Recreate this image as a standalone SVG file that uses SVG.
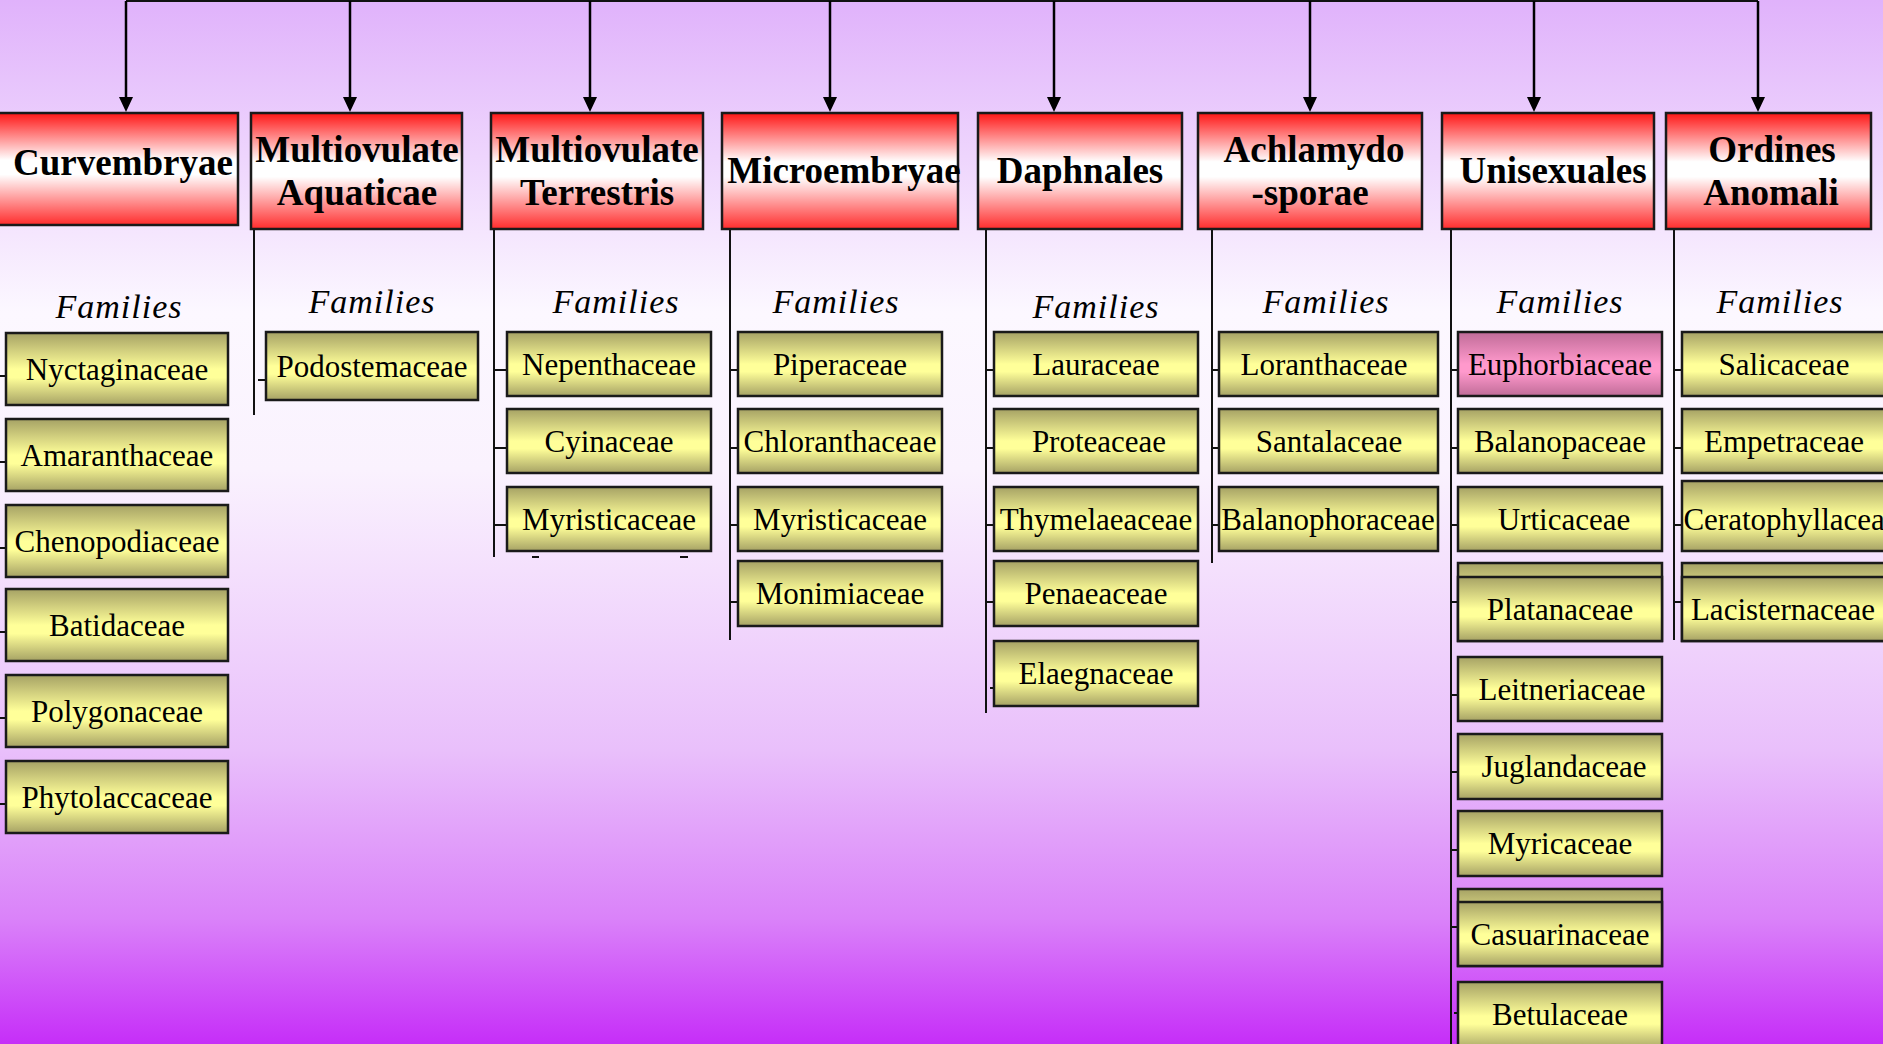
<svg xmlns="http://www.w3.org/2000/svg" width="1883" height="1044" viewBox="0 0 1883 1044">
<defs>
<linearGradient id="bg" x1="0" y1="0" x2="0" y2="1">
<stop offset="0" stop-color="#e0b2fb"/>
<stop offset="0.3" stop-color="#fcf8ff"/>
<stop offset="0.45" stop-color="#faf2fe"/>
<stop offset="0.72" stop-color="#e9bffb"/>
<stop offset="0.88" stop-color="#da82f9"/>
<stop offset="1" stop-color="#c62ef8"/>
</linearGradient>
<linearGradient id="red" x1="0" y1="0" x2="0" y2="1">
<stop offset="0" stop-color="#ff1616"/>
<stop offset="0.42" stop-color="#ffffff"/>
<stop offset="0.55" stop-color="#ffffff"/>
<stop offset="1" stop-color="#ff2c2c"/>
</linearGradient>
<linearGradient id="yel" x1="0" y1="0" x2="0" y2="1">
<stop offset="0" stop-color="#a6a265"/>
<stop offset="0.5" stop-color="#ffff99"/>
<stop offset="0.62" stop-color="#ffff99"/>
<stop offset="1" stop-color="#a6a265"/>
</linearGradient>
<linearGradient id="pink" x1="0" y1="0" x2="0" y2="1">
<stop offset="0" stop-color="#c06c98"/>
<stop offset="0.5" stop-color="#ff99cc"/>
<stop offset="0.62" stop-color="#ff99cc"/>
<stop offset="1" stop-color="#c06c98"/>
</linearGradient>
<marker id="arr" viewBox="0 0 15 14" refX="0" refY="7" markerWidth="15" markerHeight="14" markerUnits="userSpaceOnUse" orient="auto">
<path d="M0,0 L15,7 L0,14 Z" fill="#000"/>
</marker>
<style>
.hdr{fill:url(#red);stroke:#1a1a1a;stroke-width:2.5}
.fam{fill:url(#yel);stroke:#1a1a1a;stroke-width:2.5}
.pk{fill:url(#pink);stroke:#1a1a1a;stroke-width:2.5}
.ht{font-family:"Liberation Serif","Times New Roman",serif;font-weight:bold;font-size:37px;fill:#000;text-anchor:middle}
.ft{font-family:"Liberation Serif","Times New Roman",serif;font-style:italic;font-size:34px;letter-spacing:1px;fill:#000;text-anchor:middle}
.bt{font-family:"Liberation Serif","Times New Roman",serif;font-size:31px;fill:#000;text-anchor:middle}
.ln{stroke:#111;stroke-width:2;fill:none}
.ar{stroke:#000;stroke-width:2.5;fill:none;marker-end:url(#arr)}
</style>
</defs>
<rect x="0" y="0" width="1883" height="1044" fill="url(#bg)"/>

<g id="connectors">
<path class="ln" d="M126,1 H1758" stroke-width="2.5"/>
<path class="ar" d="M126,1 V97"/>
<path class="ar" d="M350,1 V97"/>
<path class="ar" d="M590,1 V97"/>
<path class="ar" d="M830,1 V97"/>
<path class="ar" d="M1054,1 V97"/>
<path class="ar" d="M1310,1 V97"/>
<path class="ar" d="M1534,1 V97"/>
<path class="ar" d="M1758,1 V97"/>
<path class="ln" d="M0,376 H6 M0,462 H6 M0,548 H6 M0,632 H6 M0,718 H6 M0,804 H6"/>
<path class="ln" d="M254,229 V415 M258,380 H266"/>
<path class="ln" d="M494,229 V557 M494,370 H507 M494,448 H507 M494,525 H507"/>
<path class="ln" d="M532,557 H539 M680,557 H688"/>
<path class="ln" d="M730,229 V640 M730,370 H738 M730,448 H738 M730,525 H738 M730,602 H738"/>
<path class="ln" d="M986,229 V713 M986,370 H994 M986,448 H994 M986,525 H994 M986,602 H994 M990,688 H997"/>
<path class="ln" d="M1212,229 V563 M1212,370 H1219 M1212,448 H1219 M1212,525 H1219"/>
<path class="ln" d="M1451,229 V1044 M1451,370 H1458 M1451,448 H1458 M1451,525 H1458 M1451,602 H1458 M1451,695 H1458 M1451,772 H1458 M1451,850 H1458 M1451,927 H1458 M1454,1013 H1461"/>
<path class="ln" d="M1674,229 V640 M1674,370 H1682 M1674,448 H1682 M1674,525 H1682 M1674,602 H1682"/>
</g>

<g id="curvembryae">
<rect class="hdr" x="-6" y="113" width="244" height="112"/>
<text class="ht" x="123" y="175">Curvembryae</text>
<text class="ft" x="119" y="318">Families</text>
<rect class="fam" x="6" y="333" width="222" height="72"/><text class="bt" x="117" y="380">Nyctaginaceae</text>
<rect class="fam" x="6" y="419" width="222" height="72"/><text class="bt" x="117" y="466">Amaranthaceae</text>
<rect class="fam" x="6" y="505" width="222" height="72"/><text class="bt" x="117" y="552">Chenopodiaceae</text>
<rect class="fam" x="6" y="589" width="222" height="72"/><text class="bt" x="117" y="636">Batidaceae</text>
<rect class="fam" x="6" y="675" width="222" height="72"/><text class="bt" x="117" y="722">Polygonaceae</text>
<rect class="fam" x="6" y="761" width="222" height="72"/><text class="bt" x="117" y="808">Phytolaccaceae</text>
</g>

<g id="multiovulate-aquaticae">
<rect class="hdr" x="251" y="113" width="211" height="116"/>
<text class="ht" x="357" y="162">Multiovulate</text>
<text class="ht" x="357" y="205">Aquaticae</text>
<text class="ft" x="372" y="313">Families</text>
<rect class="fam" x="266" y="332" width="212" height="68"/><text class="bt" x="372" y="377">Podostemaceae</text>
</g>

<g id="multiovulate-terrestris">
<rect class="hdr" x="491" y="113" width="212" height="116"/>
<text class="ht" x="597" y="162">Multiovulate</text>
<text class="ht" x="597" y="205">Terrestris</text>
<text class="ft" x="616" y="313">Families</text>
<rect class="fam" x="507" y="332" width="204" height="64"/><text class="bt" x="609" y="375">Nepenthaceae</text>
<rect class="fam" x="507" y="409" width="204" height="64"/><text class="bt" x="609" y="452">Cyinaceae</text>
<rect class="fam" x="507" y="487" width="204" height="64"/><text class="bt" x="609" y="530">Myristicaceae</text>
</g>

<g id="microembryae">
<rect class="hdr" x="722" y="113" width="236" height="116"/>
<text class="ht" x="844" y="183">Microembryae</text>
<text class="ft" x="836" y="313">Families</text>
<rect class="fam" x="738" y="332" width="204" height="64"/><text class="bt" x="840" y="375">Piperaceae</text>
<rect class="fam" x="738" y="409" width="204" height="64"/><text class="bt" x="840" y="452">Chloranthaceae</text>
<rect class="fam" x="738" y="487" width="204" height="64"/><text class="bt" x="840" y="530">Myristicaceae</text>
<rect class="fam" x="738" y="561" width="204" height="65"/><text class="bt" x="840" y="604">Monimiaceae</text>
</g>

<g id="daphnales">
<rect class="hdr" x="978" y="113" width="204" height="116"/>
<text class="ht" x="1080" y="183">Daphnales</text>
<text class="ft" x="1096" y="318">Families</text>
<rect class="fam" x="994" y="332" width="204" height="64"/><text class="bt" x="1096" y="375">Lauraceae</text>
<rect class="fam" x="994" y="409" width="204" height="64"/><text class="bt" x="1099" y="452">Proteaceae</text>
<rect class="fam" x="994" y="487" width="204" height="64"/><text class="bt" x="1096" y="530">Thymelaeaceae</text>
<rect class="fam" x="994" y="561" width="204" height="65"/><text class="bt" x="1096" y="604">Penaeaceae</text>
<rect class="fam" x="994" y="641" width="204" height="65"/><text class="bt" x="1096" y="684">Elaegnaceae</text>
</g>

<g id="achlamydosporae">
<rect class="hdr" x="1198" y="113" width="224" height="116"/>
<text class="ht" x="1314" y="162">Achlamydo</text>
<text class="ht" x="1310" y="205">-sporae</text>
<text class="ft" x="1326" y="313">Families</text>
<rect class="fam" x="1219" y="332" width="219" height="64"/><text class="bt" x="1324" y="375">Loranthaceae</text>
<rect class="fam" x="1219" y="409" width="219" height="64"/><text class="bt" x="1329" y="452">Santalaceae</text>
<rect class="fam" x="1219" y="487" width="219" height="64"/><text class="bt" x="1328" y="530">Balanophoraceae</text>
</g>

<g id="unisexuales">
<rect class="hdr" x="1442" y="113" width="212" height="116"/>
<text class="ht" x="1553" y="183">Unisexuales</text>
<text class="ft" x="1560" y="313">Families</text>
<rect class="pk" x="1458" y="332" width="204" height="64"/><text class="bt" x="1560" y="375">Euphorbiaceae</text>
<rect class="fam" x="1458" y="409" width="204" height="64"/><text class="bt" x="1560" y="452">Balanopaceae</text>
<rect class="fam" x="1458" y="487" width="204" height="64"/><text class="bt" x="1564" y="530">Urticaceae</text>
<rect class="fam" x="1458" y="563" width="204" height="78"/>
<rect class="fam" x="1458" y="577" width="204" height="64"/><text class="bt" x="1560" y="620">Platanaceae</text>
<rect class="fam" x="1458" y="657" width="204" height="64"/><text class="bt" x="1562" y="700">Leitneriaceae</text>
<rect class="fam" x="1458" y="734" width="204" height="65"/><text class="bt" x="1564" y="777">Juglandaceae</text>
<rect class="fam" x="1458" y="811" width="204" height="65"/><text class="bt" x="1560" y="854">Myricaceae</text>
<rect class="fam" x="1458" y="889" width="204" height="77"/>
<rect class="fam" x="1458" y="902" width="204" height="64"/><text class="bt" x="1560" y="945">Casuarinaceae</text>
<rect class="fam" x="1458" y="982" width="204" height="68"/><text class="bt" x="1560" y="1025">Betulaceae</text>
</g>

<g id="ordines-anomali">
<rect class="hdr" x="1666" y="113" width="205" height="116"/>
<text class="ht" x="1772" y="162">Ordines</text>
<text class="ht" x="1771" y="205">Anomali</text>
<text class="ft" x="1780" y="313">Families</text>
<rect class="fam" x="1682" y="332" width="204" height="64"/><text class="bt" x="1784" y="375">Salicaceae</text>
<rect class="fam" x="1682" y="409" width="204" height="64"/><text class="bt" x="1784" y="452">Empetraceae</text>
<rect class="fam" x="1682" y="481" width="204" height="70"/><text class="bt" x="1791" y="530">Ceratophyllaceae</text>
<rect class="fam" x="1682" y="563" width="204" height="78"/>
<rect class="fam" x="1682" y="577" width="204" height="64"/><text class="bt" x="1783" y="620">Lacisternaceae</text>
</g>
</svg>
